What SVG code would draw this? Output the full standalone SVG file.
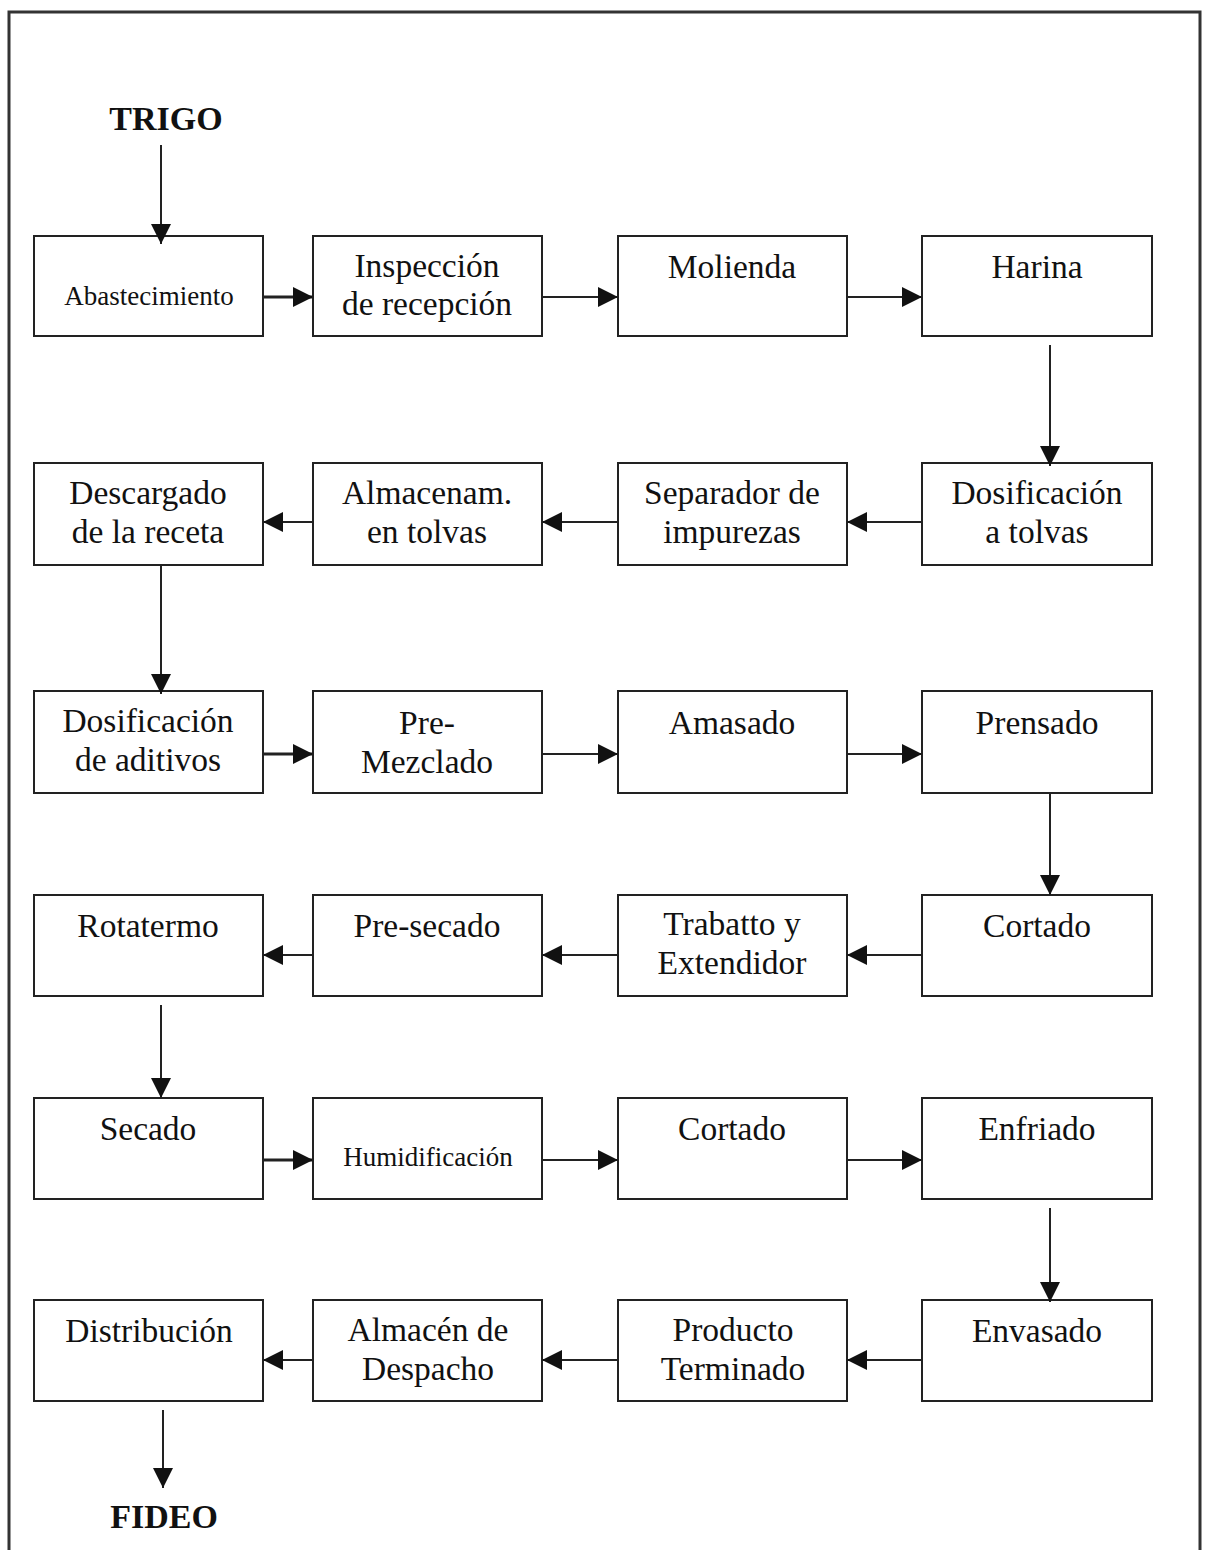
<svg xmlns="http://www.w3.org/2000/svg" width="1206" height="1550" viewBox="0 0 1206 1550">
<style>
.box{fill:#fff;stroke:#222;stroke-width:2}
.t{font-family:"Liberation Serif",serif;font-size:33.5px;fill:#111;text-anchor:middle}
.s{font-size:27px}
.b{font-weight:bold;font-size:34px}
.c{stroke:#222;stroke-width:2;fill:none}
.h{stroke-width:3}
</style>
<defs>
<marker id="ah" viewBox="0 0 10 10" refX="10" refY="5" markerWidth="22" markerHeight="20" markerUnits="userSpaceOnUse" orient="auto"><path d="M0,0 L10,5 L0,10 z" fill="#111"/></marker>
</defs>
<rect width="1206" height="1550" fill="#fff"/>
<rect x="9" y="12" width="1191" height="1540" fill="none" stroke="#333" stroke-width="3"/>
<text class="t b" x="166" y="130">TRIGO</text>
<text class="t b" x="164" y="1528">FIDEO</text>
<g id="n1"><rect class="box" x="34" y="236" width="229" height="100"/><text class="t s" x="149" y="305">Abastecimiento</text></g>
<g id="n2"><rect class="box" x="313" y="236" width="229" height="100"/><text class="t" x="427" y="277">Inspección</text><text class="t" x="427" y="315">de recepción</text></g>
<g id="n3"><rect class="box" x="618" y="236" width="229" height="100"/><text class="t" x="732" y="278">Molienda</text></g>
<g id="n4"><rect class="box" x="922" y="236" width="230" height="100"/><text class="t" x="1037" y="278">Harina</text></g>
<g id="n5"><rect class="box" x="34" y="463" width="229" height="102"/><text class="t" x="148" y="504">Descargado</text><text class="t" x="148" y="543">de la receta</text></g>
<g id="n6"><rect class="box" x="313" y="463" width="229" height="102"/><text class="t" x="427" y="504">Almacenam.</text><text class="t" x="427" y="543">en tolvas</text></g>
<g id="n7"><rect class="box" x="618" y="463" width="229" height="102"/><text class="t" x="732" y="504">Separador de</text><text class="t" x="732" y="543">impurezas</text></g>
<g id="n8"><rect class="box" x="922" y="463" width="230" height="102"/><text class="t" x="1037" y="504">Dosificación</text><text class="t" x="1037" y="543">a tolvas</text></g>
<g id="n9"><rect class="box" x="34" y="691" width="229" height="102"/><text class="t" x="148" y="732">Dosificación</text><text class="t" x="148" y="771">de aditivos</text></g>
<g id="n10"><rect class="box" x="313" y="691" width="229" height="102"/><text class="t" x="427" y="734">Pre-</text><text class="t" x="427" y="773">Mezclado</text></g>
<g id="n11"><rect class="box" x="618" y="691" width="229" height="102"/><text class="t" x="732" y="734">Amasado</text></g>
<g id="n12"><rect class="box" x="922" y="691" width="230" height="102"/><text class="t" x="1037" y="734">Prensado</text></g>
<g id="n13"><rect class="box" x="34" y="895" width="229" height="101"/><text class="t" x="148" y="937">Rotatermo</text></g>
<g id="n14"><rect class="box" x="313" y="895" width="229" height="101"/><text class="t" x="427" y="937">Pre-secado</text></g>
<g id="n15"><rect class="box" x="618" y="895" width="229" height="101"/><text class="t" x="732" y="935">Trabatto y</text><text class="t" x="732" y="974">Extendidor</text></g>
<g id="n16"><rect class="box" x="922" y="895" width="230" height="101"/><text class="t" x="1037" y="937">Cortado</text></g>
<g id="n17"><rect class="box" x="34" y="1098" width="229" height="101"/><text class="t" x="148" y="1140">Secado</text></g>
<g id="n18"><rect class="box" x="313" y="1098" width="229" height="101"/><text class="t s" x="428" y="1166">Humidificación</text></g>
<g id="n19"><rect class="box" x="618" y="1098" width="229" height="101"/><text class="t" x="732" y="1140">Cortado</text></g>
<g id="n20"><rect class="box" x="922" y="1098" width="230" height="101"/><text class="t" x="1037" y="1140">Enfriado</text></g>
<g id="n21"><rect class="box" x="34" y="1300" width="229" height="101"/><text class="t" x="149" y="1342">Distribución</text></g>
<g id="n22"><rect class="box" x="313" y="1300" width="229" height="101"/><text class="t" x="428" y="1341">Almacén de</text><text class="t" x="428" y="1380">Despacho</text></g>
<g id="n23"><rect class="box" x="618" y="1300" width="229" height="101"/><text class="t" x="733" y="1341">Producto</text><text class="t" x="733" y="1380">Terminado</text></g>
<g id="n24"><rect class="box" x="922" y="1300" width="230" height="101"/><text class="t" x="1037" y="1342">Envasado</text></g>
<g id="connectors">
<path class="c" d="M161,145 V244" marker-end="url(#ah)"/>
<path class="c h" d="M263,297 H313" marker-end="url(#ah)"/>
<path class="c" d="M542,297 H618" marker-end="url(#ah)"/>
<path class="c" d="M847,297 H922" marker-end="url(#ah)"/>
<path class="c" d="M1050,345 V466" marker-end="url(#ah)"/>
<path class="c" d="M922,522 H847" marker-end="url(#ah)"/>
<path class="c" d="M618,522 H542" marker-end="url(#ah)"/>
<path class="c" d="M313,522 H263" marker-end="url(#ah)"/>
<path class="c" d="M161,565 V694" marker-end="url(#ah)"/>
<path class="c h" d="M263,754 H313" marker-end="url(#ah)"/>
<path class="c" d="M542,754 H618" marker-end="url(#ah)"/>
<path class="c" d="M847,754 H922" marker-end="url(#ah)"/>
<path class="c" d="M1050,793 V895" marker-end="url(#ah)"/>
<path class="c" d="M922,955 H847" marker-end="url(#ah)"/>
<path class="c" d="M618,955 H542" marker-end="url(#ah)"/>
<path class="c" d="M313,955 H263" marker-end="url(#ah)"/>
<path class="c" d="M161,1005 V1098" marker-end="url(#ah)"/>
<path class="c h" d="M263,1160 H313" marker-end="url(#ah)"/>
<path class="c" d="M542,1160 H618" marker-end="url(#ah)"/>
<path class="c" d="M847,1160 H922" marker-end="url(#ah)"/>
<path class="c" d="M1050,1208 V1302" marker-end="url(#ah)"/>
<path class="c" d="M922,1360 H847" marker-end="url(#ah)"/>
<path class="c" d="M618,1360 H542" marker-end="url(#ah)"/>
<path class="c" d="M313,1360 H263" marker-end="url(#ah)"/>
<path class="c" d="M163,1410 V1488" marker-end="url(#ah)"/>
</g>
</svg>
